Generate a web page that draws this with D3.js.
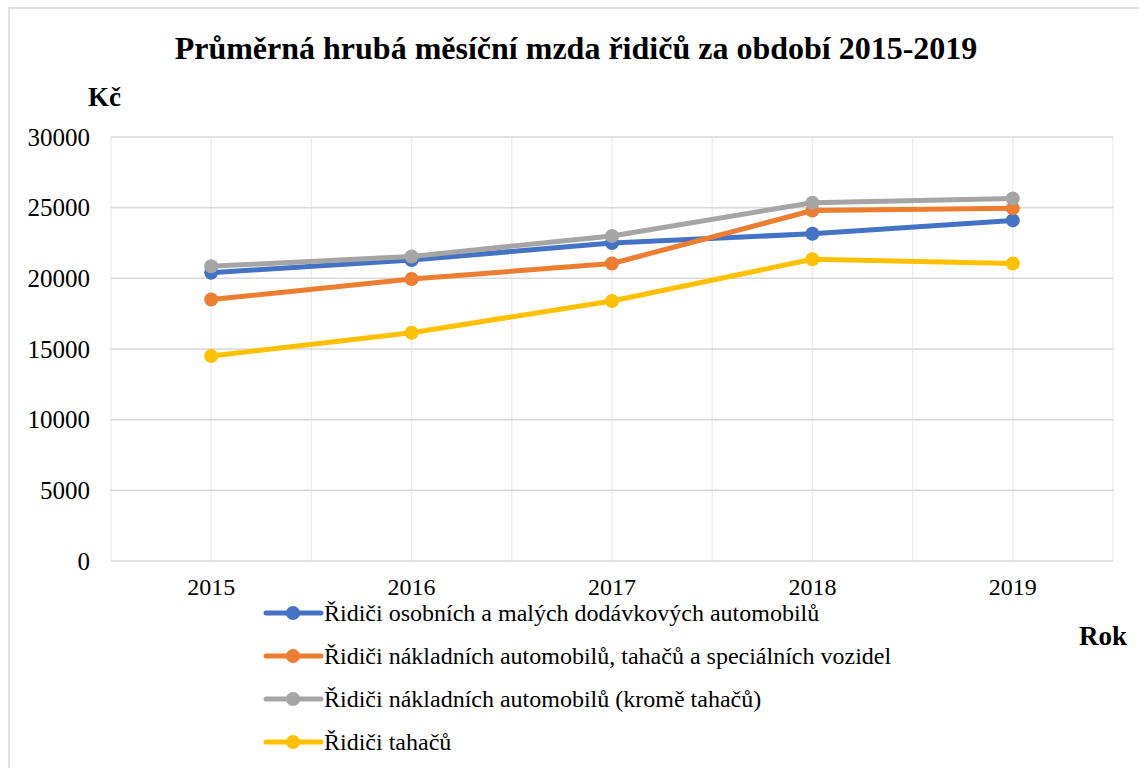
<!DOCTYPE html>
<html lang="cs">
<head>
<meta charset="UTF-8">
<title>Průměrná hrubá měsíční mzda řidičů</title>
<script src="https://d3js.org/d3.v7.min.js"></script>
<style>
  body { margin: 0; background: #fff; }
  svg { display: block; font-family: 'Liberation Serif', 'Times New Roman', serif; }
  svg text { font-family: 'Liberation Serif', 'Times New Roman', serif; fill: #000; }
</style>
</head>
<body>
<script>
// data
var years = ['2015', '2016', '2017', '2018', '2019'];
var yTicks = [0, 5000, 10000, 15000, 20000, 25000, 30000];
var seriesNames = [
  'Řidiči osobních a malých dodávkových automobilů',
  'Řidiči nákladních automobilů, tahačů a speciálních vozidel',
  'Řidiči nákladních automobilů (kromě tahačů)',
  'Řidiči tahačů'
];
var osobni = [20400, 21300, 22500, 23150, 24100];
var nakladniVse = [18500, 19950, 21050, 24800, 24950];
var nakladniBezTahacu = [20850, 21550, 23000, 25350, 25650];
var tahace = [14500, 16150, 18400, 21350, 21050];
var colors = ['#4472c4', '#ed7d31', '#a5a5a5', '#ffc000'];

var series = [osobni, nakladniVse, nakladniBezTahacu, tahace].map(function(v, i) {
  return { name: seriesNames[i], values: v, color: colors[i] };
});

var width = 1139, height = 768;
var plot = { left: 111, right: 1113, top: 137, bottom: 561 };

var svg = d3.select('body').append('svg')
  .attr('width', width)
  .attr('height', height);

// outer chart border
svg.append('rect')
  .attr('x', 9).attr('y', 8)
  .attr('width', 1140).attr('height', 780)
  .attr('fill', 'none')
  .attr('stroke', '#d9d9d9')
  .attr('stroke-width', 1.5);

var x = d3.scaleBand().domain(years).range([plot.left, plot.right]);
var y = d3.scaleLinear().domain([0, 30000]).range([plot.bottom, plot.top]);
var cx = function(i) { return x(years[i]) + x.bandwidth() / 2; };

// vertical gridlines: band edges and band centres
var vLines = [];
years.forEach(function(yr) { vLines.push(x(yr)); vLines.push(x(yr) + x.bandwidth() / 2); });
vLines.push(plot.right);
svg.append('g').selectAll('line').data(vLines).enter().append('line')
  .attr('x1', d => d).attr('x2', d => d)
  .attr('y1', plot.top).attr('y2', plot.bottom)
  .attr('stroke', '#ececec').attr('stroke-width', 1.3);

// horizontal gridlines
svg.append('g').selectAll('line').data(yTicks).enter().append('line')
  .attr('x1', plot.left).attr('x2', plot.right)
  .attr('y1', d => y(d)).attr('y2', d => y(d))
  .attr('stroke', '#d9d9d9').attr('stroke-width', 1.5);

// y axis labels
var yAxis = d3.axisLeft(y).tickValues(yTicks).tickSize(0).tickPadding(21).tickFormat(d3.format('d'));
var ya = svg.append('g').attr('transform', 'translate(' + plot.left + ',0)').call(yAxis);
ya.attr('font-family', null);
ya.select('.domain').remove();
ya.selectAll('text').style('font-size', '25px');

// x axis labels
var xAxis = d3.axisBottom(x).tickSize(0).tickPadding(17);
var xa = svg.append('g').attr('transform', 'translate(0,' + plot.bottom + ')').call(xAxis);
xa.attr('font-family', null);
xa.select('.domain').remove();
xa.selectAll('text').style('font-size', '24px');

// lines
var line = d3.line().x((d, i) => cx(i)).y(d => y(d));
series.forEach(function(s) {
  svg.append('path')
    .attr('d', line(s.values))
    .attr('fill', 'none')
    .attr('stroke', s.color)
    .attr('stroke-width', 5)
    .attr('stroke-linejoin', 'round');
  svg.append('g').selectAll('circle').data(s.values).enter().append('circle')
    .attr('cx', (d, i) => cx(i))
    .attr('cy', d => y(d))
    .attr('r', 7)
    .attr('fill', s.color);
});

// title and axis titles
svg.append('text')
  .attr('x', 576).attr('y', 59)
  .attr('text-anchor', 'middle')
  .style('font-size', '32px').style('font-weight', 'bold')
  .text('Průměrná hrubá měsíční mzda řidičů za období 2015-2019');

svg.append('text')
  .attr('x', 88).attr('y', 106)
  .style('font-size', '27px').style('font-weight', 'bold')
  .text('Kč');

svg.append('text')
  .attr('x', 1127).attr('y', 645)
  .attr('text-anchor', 'end')
  .style('font-size', '27px').style('font-weight', 'bold')
  .text('Rok');

// legend
var legend = svg.append('g').selectAll('g').data(series).enter().append('g')
  .attr('transform', (d, i) => 'translate(266,' + (613 + i * 43) + ')');
legend.append('line')
  .attr('x1', 0).attr('x2', 55)
  .attr('stroke', d => d.color).attr('stroke-width', 5).attr('stroke-linecap', 'round');
legend.append('circle')
  .attr('cx', 27).attr('r', 7).attr('fill', d => d.color);
legend.append('text')
  .attr('x', 58).attr('y', 8)
  .style('font-size', '24px')
  .text(d => d.name);
</script>
</body>
</html>
